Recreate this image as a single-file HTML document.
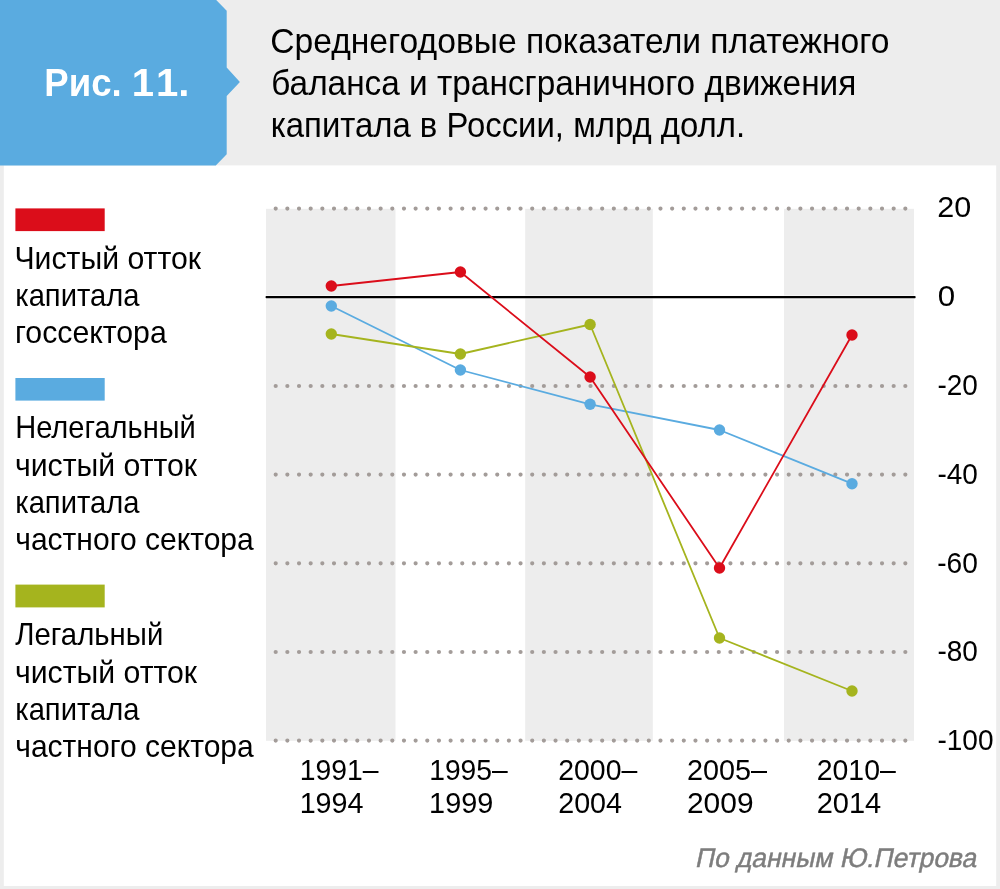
<!DOCTYPE html>
<html lang="ru">
<head>
<meta charset="utf-8">
<title>Рис. 11. Среднегодовые показатели платежного баланса</title>
<style>
html,body{margin:0;padding:0;background:#fff;}
body{width:1000px;height:889px;overflow:hidden;}
svg{display:block;}
text{font-family:"Liberation Sans", sans-serif;}
</style>
</head>
<body>
<svg width="1000" height="889" viewBox="0 0 1000 889">
<rect x="0" y="0" width="1000" height="889" fill="#ededed"/>
<rect x="3.8" y="165.4" width="992.4" height="720.6" fill="#fff"/>
<path d="M0 0H216.2L226.7 10.8V67.6L239.9 82L226.7 96V154.2L215.8 165.4H0Z" fill="#5aabe0"/>
<rect x="266" y="208.8" width="129.5" height="532" fill="#ededed"/>
<rect x="525.2" y="208.8" width="127.6" height="532" fill="#ededed"/>
<rect x="784" y="208.8" width="130.0" height="532" fill="#ededed"/>
<line x1="275.7" y1="208.6" x2="905.5" y2="208.6" stroke="#a39c99" stroke-width="4.2" stroke-linecap="round" stroke-dasharray="0 11.66"/>
<line x1="275.7" y1="386.0" x2="905.5" y2="386.0" stroke="#a39c99" stroke-width="4.2" stroke-linecap="round" stroke-dasharray="0 11.66"/>
<line x1="275.7" y1="474.6" x2="905.5" y2="474.6" stroke="#a39c99" stroke-width="4.2" stroke-linecap="round" stroke-dasharray="0 11.66"/>
<line x1="275.7" y1="563.3" x2="905.5" y2="563.3" stroke="#a39c99" stroke-width="4.2" stroke-linecap="round" stroke-dasharray="0 11.66"/>
<line x1="275.7" y1="652.0" x2="905.5" y2="652.0" stroke="#a39c99" stroke-width="4.2" stroke-linecap="round" stroke-dasharray="0 11.66"/>
<line x1="275.7" y1="740.6" x2="905.5" y2="740.6" stroke="#a39c99" stroke-width="4.2" stroke-linecap="round" stroke-dasharray="0 11.66"/>
<rect x="265" y="295" width="651.5" height="4.4" fill="#fff" fill-opacity="0.55"/>
<rect x="265.6" y="296.1" width="650" height="2.1" rx="0.6" fill="#000"/>
<polyline points="331.3,306.0 460.4,370.0 590.1,404.3 719.5,430.0 852.0,483.7" fill="none" stroke="#5aabe0" stroke-width="1.8" stroke-linejoin="round"/>
<circle cx="331.3" cy="306.0" r="5.7" fill="#5aabe0"/>
<circle cx="460.4" cy="370.0" r="5.7" fill="#5aabe0"/>
<circle cx="590.1" cy="404.3" r="5.7" fill="#5aabe0"/>
<circle cx="719.5" cy="430.0" r="5.7" fill="#5aabe0"/>
<circle cx="852.0" cy="483.7" r="5.7" fill="#5aabe0"/>
<polyline points="331.3,334.0 460.4,354.0 590.1,324.5 719.5,638.0 852.0,691.0" fill="none" stroke="#a5b41e" stroke-width="1.8" stroke-linejoin="round"/>
<circle cx="331.3" cy="334.0" r="5.7" fill="#a5b41e"/>
<circle cx="460.4" cy="354.0" r="5.7" fill="#a5b41e"/>
<circle cx="590.1" cy="324.5" r="5.7" fill="#a5b41e"/>
<circle cx="719.5" cy="638.0" r="5.7" fill="#a5b41e"/>
<circle cx="852.0" cy="691.0" r="5.7" fill="#a5b41e"/>
<polyline points="331.3,286.0 460.4,272.0 590.1,377.0 719.5,568.0 852.0,335.0" fill="none" stroke="#db0d1a" stroke-width="1.8" stroke-linejoin="round"/>
<circle cx="331.3" cy="286.0" r="5.7" fill="#db0d1a"/>
<circle cx="460.4" cy="272.0" r="5.7" fill="#db0d1a"/>
<circle cx="590.1" cy="377.0" r="5.7" fill="#db0d1a"/>
<circle cx="719.5" cy="568.0" r="5.7" fill="#db0d1a"/>
<circle cx="852.0" cy="335.0" r="5.7" fill="#db0d1a"/>
<rect x="15.4" y="208.4" width="89.3" height="22.7" fill="#db0d1a"/>
<rect x="15.4" y="378.0" width="89.3" height="22.6" fill="#5aabe0"/>
<rect x="15.4" y="584.6" width="89.3" height="22.8" fill="#a5b41e"/>
<text x="44.34" y="96.0" font-size="38" fill="#fff" textLength="77.33" lengthAdjust="spacingAndGlyphs" font-weight="bold">Рис.</text>
<text x="131.77" y="96.0" font-size="38" fill="#fff" textLength="57.72" lengthAdjust="spacingAndGlyphs" font-weight="bold">1<tspan dx="4">1.</tspan></text>
<text x="270.24" y="52.8" font-size="35" fill="#000" textLength="619.27" lengthAdjust="spacingAndGlyphs">Среднегодовые показатели платежного</text>
<text x="271.24" y="95.0" font-size="35" fill="#000" textLength="585.03" lengthAdjust="spacingAndGlyphs">баланса и трансграничного движения</text>
<text x="270.73" y="136.6" font-size="35" fill="#000" textLength="474.31" lengthAdjust="spacingAndGlyphs">капитала в России, млрд долл.</text>
<text x="14.47" y="268.8" font-size="32" fill="#000" textLength="186.53" lengthAdjust="spacingAndGlyphs">Чистый отток</text>
<text x="15.22" y="306.4" font-size="32" fill="#000" textLength="124.28" lengthAdjust="spacingAndGlyphs">капитала</text>
<text x="14.97" y="343.0" font-size="32" fill="#000" textLength="151.78" lengthAdjust="spacingAndGlyphs">госсектора</text>
<text x="15.20" y="437.8" font-size="32" fill="#000" textLength="180.61" lengthAdjust="spacingAndGlyphs">Нелегальный</text>
<text x="14.98" y="475.6" font-size="32" fill="#000" textLength="182.01" lengthAdjust="spacingAndGlyphs">чистый отток</text>
<text x="15.22" y="512.9" font-size="32" fill="#000" textLength="124.28" lengthAdjust="spacingAndGlyphs">капитала</text>
<text x="15.24" y="549.8" font-size="32" fill="#000" textLength="238.51" lengthAdjust="spacingAndGlyphs">частного сектора</text>
<text x="15.24" y="644.8" font-size="32" fill="#000" textLength="148.04" lengthAdjust="spacingAndGlyphs">Легальный</text>
<text x="14.98" y="682.9" font-size="32" fill="#000" textLength="182.01" lengthAdjust="spacingAndGlyphs">чистый отток</text>
<text x="15.22" y="719.8" font-size="32" fill="#000" textLength="124.28" lengthAdjust="spacingAndGlyphs">капитала</text>
<text x="15.24" y="757.1" font-size="32" fill="#000" textLength="238.51" lengthAdjust="spacingAndGlyphs">частного сектора</text>
<text x="937.38" y="216.9" font-size="30" fill="#000" textLength="33.97" lengthAdjust="spacingAndGlyphs">20</text>
<text x="937.79" y="305.8" font-size="30" fill="#000" textLength="17.41" lengthAdjust="spacingAndGlyphs">0</text>
<text x="937.44" y="394.7" font-size="30" fill="#000" textLength="40.38" lengthAdjust="spacingAndGlyphs">-20</text>
<text x="937.44" y="483.6" font-size="30" fill="#000" textLength="40.38" lengthAdjust="spacingAndGlyphs">-40</text>
<text x="937.17" y="572.5" font-size="30" fill="#000" textLength="40.64" lengthAdjust="spacingAndGlyphs">-60</text>
<text x="937.44" y="661.4" font-size="30" fill="#000" textLength="40.38" lengthAdjust="spacingAndGlyphs">-80</text>
<text x="937.44" y="750.3" font-size="30" fill="#000" textLength="56.10" lengthAdjust="spacingAndGlyphs">-100</text>
<text x="299.69" y="780.0" font-size="30" fill="#000" textLength="78.81" lengthAdjust="spacingAndGlyphs">1991–</text>
<text x="299.65" y="813.2" font-size="30" fill="#000" textLength="63.89" lengthAdjust="spacingAndGlyphs">1994</text>
<text x="429.18" y="780.0" font-size="30" fill="#000" textLength="78.57" lengthAdjust="spacingAndGlyphs">1995–</text>
<text x="429.12" y="813.2" font-size="30" fill="#000" textLength="64.20" lengthAdjust="spacingAndGlyphs">1999</text>
<text x="558.22" y="780.0" font-size="30" fill="#000" textLength="79.03" lengthAdjust="spacingAndGlyphs">2000–</text>
<text x="558.20" y="813.2" font-size="30" fill="#000" textLength="63.84" lengthAdjust="spacingAndGlyphs">2004</text>
<text x="686.97" y="780.0" font-size="30" fill="#000" textLength="80.03" lengthAdjust="spacingAndGlyphs">2005–</text>
<text x="686.94" y="813.2" font-size="30" fill="#000" textLength="66.62" lengthAdjust="spacingAndGlyphs">2009</text>
<text x="816.73" y="780.0" font-size="30" fill="#000" textLength="79.03" lengthAdjust="spacingAndGlyphs">2010–</text>
<text x="816.70" y="813.2" font-size="30" fill="#000" textLength="64.58" lengthAdjust="spacingAndGlyphs">2014</text>
<text x="694.74" y="866.8" font-size="26.8" fill="#7d7d7d" textLength="281.26" lengthAdjust="spacingAndGlyphs" stroke="#7d7d7d" stroke-width="0.45" transform="translate(0,866.8) skewX(-12) translate(0,-866.8)">По данным Ю.Петрова</text>
</svg>
</body>
</html>
